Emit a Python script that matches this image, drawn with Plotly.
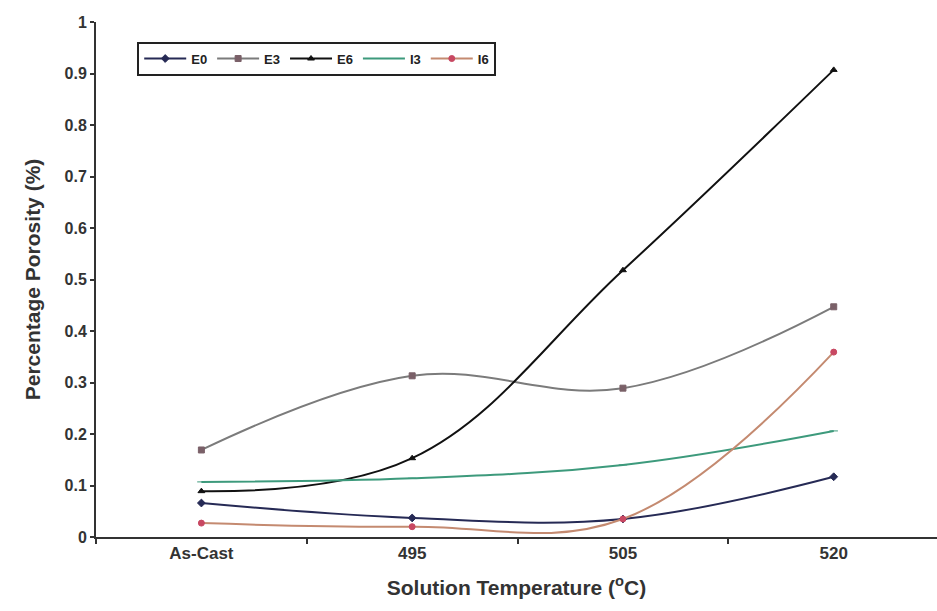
import plotly.graph_objects as go

categories = ["As-Cast", "495", "505", "520"]
E0 = [0.066, 0.037, 0.035, 0.117]
E3 = [0.169, 0.313, 0.289, 0.447]
E6 = [0.089, 0.153, 0.518, 0.907]
I3 = [0.107, 0.114, 0.140, 0.206]
I6 = [0.027, 0.020, 0.035, 0.359]

series = [
    ("E0", E0, "#262a55", "diamond", "#262a55"),
    ("E3", E3, "#7b7b7b", "square", "#7a6068"),
    ("E6", E6, "#111111", "triangle-up", "#111111"),
    ("I3", I3, "#3d9a7c", "line-ew-open", "#3d9a7c"),
    ("I6", I6, "#c48a70", "circle", "#c84862"),
]

FONT = "Liberation Sans, Arial, sans-serif"

fig = go.Figure()
for name, vals, col, sym, mcol in series:
    fig.add_trace(go.Scatter(
        x=categories, y=vals, name=name, mode="lines+markers",
        line=dict(color=col, width=2, shape="spline", smoothing=1.1),
        marker=dict(symbol=sym, size=6, color=mcol, line=dict(color=mcol, width=1)),
    ))

fig.update_layout(
    width=937, height=611,
    margin=dict(l=96, r=0, t=22, b=74),
    plot_bgcolor="white", paper_bgcolor="white",
    font=dict(family=FONT, color="#333333"),
    legend=dict(
        orientation="h", x=0.049, y=0.962, xanchor="left", yanchor="top",
        bordercolor="#222222", borderwidth=2, bgcolor="white",
        font=dict(size=13, family=FONT, color="#222222", weight=700),
        itemwidth=42, tracegroupgap=0,
    ),
    xaxis=dict(
        type="category", range=[-0.5, 3.49],
        showline=True, linecolor="#333333", linewidth=2,
        ticks="outside", tickson="boundaries", ticklen=5, tickcolor="#333333", tickwidth=1.5,
        showgrid=False, zeroline=False,
        tickfont=dict(size=17, family=FONT, color="#333333", weight=700),
        title=dict(text="Solution Temperature (<sup>o</sup>C)",
                   font=dict(size=21, family=FONT, color="#333333", weight=700), standoff=18),
    ),
    yaxis=dict(
        range=[0, 1], dtick=0.1, tickformat="~g",
        showline=True, linecolor="#333333", linewidth=2,
        ticks="outside", ticklen=4, tickcolor="#333333", tickwidth=1.5,
        showgrid=False, zeroline=False,
        tickfont=dict(size=16, family=FONT, color="#333333", weight=700),
        title=dict(text="Percentage Porosity (%)",
                   font=dict(size=21, family=FONT, color="#333333", weight=700), standoff=18),
    ),
)

fig.write_html("out.html")
